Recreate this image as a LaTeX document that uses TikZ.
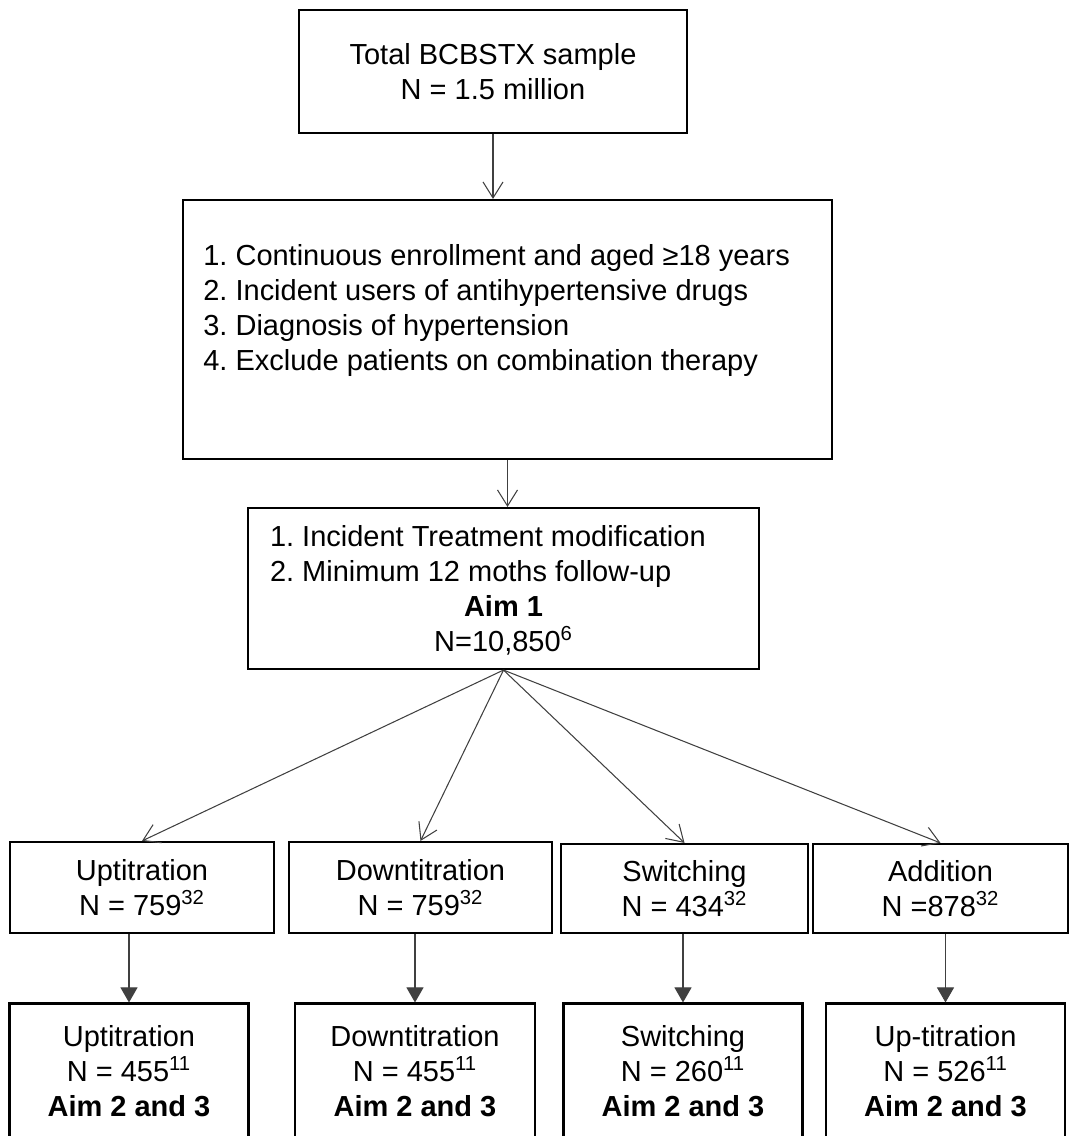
\documentclass[tikz,border=0pt]{standalone}
\usepackage{fontspec}
\setmainfont{Liberation Sans}
\usetikzlibrary{arrows.meta}
\frenchspacing
\begin{document}
\begin{tikzpicture}[font=\fontsize{16.5}{20}\selectfont\frenchspacing,
    box/.style={draw, line width=1.2pt, inner sep=0pt, align=center},
    openarrow/.style={draw=black!75, line width=0.6pt, -{Straight Barb[length=0.32cm,width=0.4cm]}},
    fillarrow/.style={draw=black!75, line width=0.6pt, -{Triangle[length=0.3cm,width=0.34cm]}}]
\useasboundingbox (0,0) rectangle (21.38,-22.72);
% sample and selection steps
\node[box, minimum width=7.76cm, minimum height=2.46cm] (total) at (9.86,-1.43)
    {Total BCBSTX sample\\N = 1.5 million};
\node[box, minimum width=12.98cm, minimum height=5.18cm] (crit) at (10.15,-6.59) {};
\node[inner sep=0pt, anchor=west, align=left] (critlist) at (4.06,-6.21)
    {1. Continuous enrollment and aged ≥18 years\\
     2. Incident users of antihypertensive drugs\\
     3. Diagnosis of hypertension\\
     4. Exclude patients on combination therapy};
\node[box, minimum width=10.22cm, minimum height=3.22cm] (mod) at (10.07,-11.77)
    {\begin{tabular}[b]{@{}p{9.34cm}@{}}1. Incident Treatment modification\\
     2. Minimum 12 moths follow-up\end{tabular}\\
     \textbf{Aim 1}\\N=10,850\textsuperscript{6}};
% modification types
\node[box, minimum width=5.29cm, minimum height=1.82cm] (upA) at (2.84,-17.75)
    {Uptitration\\N = 759\textsuperscript{32}};
\node[box, minimum width=5.27cm, minimum height=1.82cm] (downA) at (8.41,-17.75)
    {Downtitration\\N = 759\textsuperscript{32}};
\node[box, minimum width=4.94cm, minimum height=1.78cm] (switchA) at (13.69,-17.77)
    {Switching\\N = 434\textsuperscript{32}};
\node[box, minimum width=5.10cm, minimum height=1.78cm] (addA) at (18.81,-17.77)
    {Addition\\N =878\textsuperscript{32}};
% aim 2 and 3 samples
\node[box, minimum width=4.78cm, minimum height=2.7cm] (upB) at (2.58,-21.42)
    {Uptitration\\N = 455\textsuperscript{11}\\\textbf{Aim 2 and 3}};
\node[box, minimum width=4.79cm, minimum height=2.7cm] (downB) at (8.30,-21.42)
    {Downtitration\\N = 455\textsuperscript{11}\\\textbf{Aim 2 and 3}};
\node[box, minimum width=4.78cm, minimum height=2.7cm] (switchB) at (13.66,-21.42)
    {Switching\\N = 260\textsuperscript{11}\\\textbf{Aim 2 and 3}};
\node[box, minimum width=4.79cm, minimum height=2.7cm] (addB) at (18.91,-21.42)
    {Up-titration\\N = 526\textsuperscript{11}\\\textbf{Aim 2 and 3}};
% connectors
\draw[openarrow] (total.south) -- (total.south |- crit.north);
\draw[openarrow] (crit.south) -- (crit.south |- mod.north);
\draw[openarrow] (mod.south) -- (upA.north);
\draw[openarrow] (mod.south) -- (downA.north);
\draw[openarrow] (mod.south) -- (switchA.north);
\draw[openarrow] (mod.south) -- (addA.north);
\draw[fillarrow] (upB.north |- upA.south) -- (upB.north);
\draw[fillarrow] (downB.north |- downA.south) -- (downB.north);
\draw[fillarrow] (switchB.north |- switchA.south) -- (switchB.north);
\draw[fillarrow] (addB.north |- addA.south) -- (addB.north);
\end{tikzpicture}
\end{document}
